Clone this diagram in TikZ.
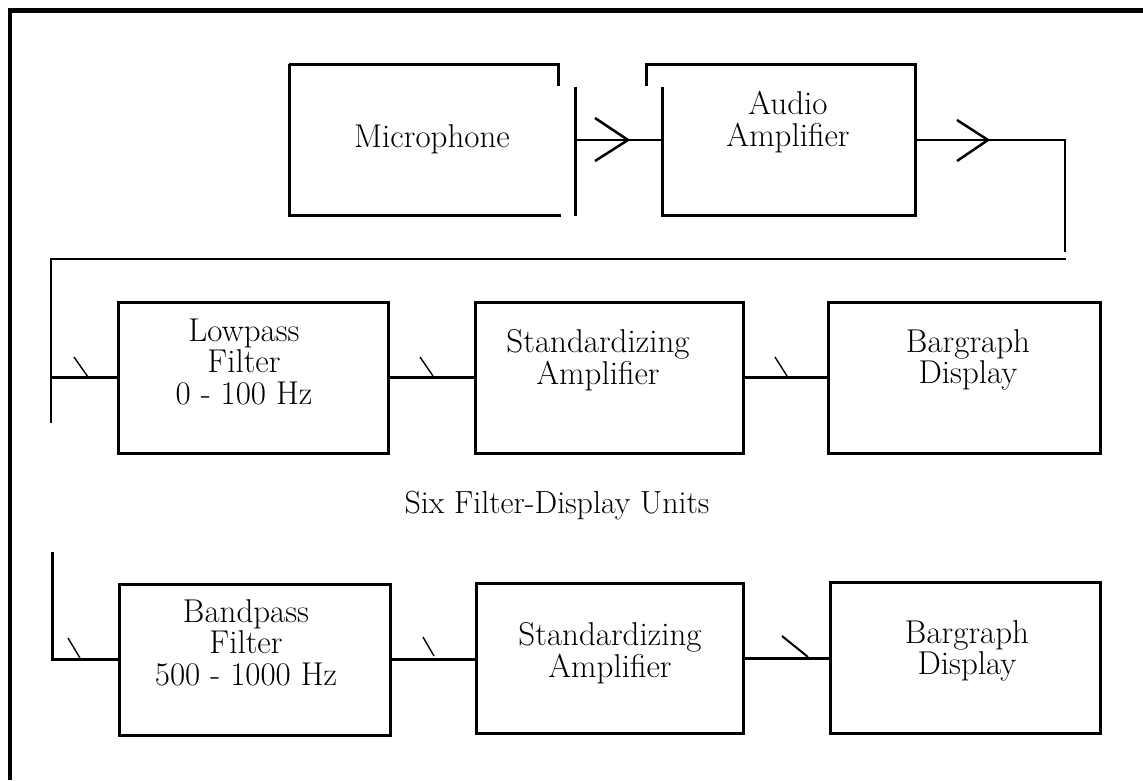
\documentclass[tikz,border=0pt]{standalone}
\usepackage{fontspec}
\newcommand\mystack[1]{\begin{tabular}[t]{@{}c@{}}#1\end{tabular}}
\begin{document}
\begin{tikzpicture}[x=1pt,y=-1pt,
  box/.style={draw, line width=3pt, inner sep=0pt},
  ghost/.style={inner sep=0pt},
  boxline/.style={line width=3pt},
  conn/.style={line width=2.5pt},
  chev/.style={line width=2.5pt, line join=miter},
  slash/.style={line width=1.4pt},
  frame/.style={line width=4.6pt, line join=miter},
  txt/.style={anchor=base, inner sep=0pt, font=\fontsize{33}{30}\selectfont}]
\useasboundingbox (0,0) rectangle (1143,780);
% frame
\draw[frame] (10,780) -- (10,10.3) -- (1143,10.3);

% top row
\node[ghost, minimum width=286pt, minimum height=152pt] (mic) at (432,140) {};
\draw[boxline] (289,64) -- (558,64) -- (558,86);
\draw[boxline] (289,64) -- (289,215) -- (561,215);
\draw[boxline] (575,87) -- (575,216);
\node[txt] (micT) at (432,147) {Microphone};

\node[ghost, minimum width=253pt, minimum height=151pt] (amp) at (788.5,140) {};
\draw[boxline] (646,86) -- (646,64) -- (915,64) -- (915,215) -- (662,215) -- (662,87);
\node[txt] (ampT) at (788,114) {\mystack{Audio\\Amplifier}};

\draw[conn] (mic.east) -- (amp.west);
\draw[chev] (595,118) -- (628,140) -- (595,161);

\coordinate (c1) at (1065,252);
\coordinate (c2) at (1066,259);
\coordinate (c3) at (51,259);
\coordinate (c4) at (51,423);
\draw[conn] (amp.east) -- (c1 |- amp.east) -- (c1);
\draw[chev] (957,120) -- (988,140) -- (957,161);
\draw[conn] (c2) -- (c3) -- (c4);

% row 1
\node[box, minimum width=270pt, minimum height=151pt] (lp) at (253,377.5) {};
\node[txt] (lpT) at (244,341) {\mystack{Lowpass\\Filter\\0 - 100 Hz}};
\node[box, minimum width=268pt, minimum height=151pt] (std1) at (609,377.5) {};
\node[txt] (std1T) at (598,352) {\mystack{Standardizing\\Amplifier}};
\node[box, minimum width=272pt, minimum height=151pt] (bar1) at (964,377.5) {};
\node[txt] (bar1T) at (968,352) {\mystack{Bargraph\\Display}};

\draw[conn] (c3 |- lp.west) -- (lp.west);
\draw[conn] (lp.east) -- (std1.west);
\draw[conn] (std1.east) -- (bar1.west);
\draw[slash] (74,357) -- (88,377);
\draw[slash] (420,357) -- (433,376);
\draw[slash] (775,357) -- (787,376);

\node[txt, font=\fontsize{32}{30}\selectfont] (six) at (557,513) {Six Filter-Display Units};

% row 2
\node[box, minimum width=271pt, minimum height=151pt] (bp) at (254.5,659.5) {};
\node[txt] (bpT) at (246,622) {\mystack{Bandpass\\Filter\\500 - 1000 Hz}};
\node[box, minimum width=267pt, minimum height=150pt] (std2) at (609.5,658) {};
\node[txt] (std2T) at (610,645) {\mystack{Standardizing\\Amplifier}};
\node[box, minimum width=270pt, minimum height=151pt] (bar2) at (965,657.5) {};
\node[txt] (bar2T) at (967,643) {\mystack{Bargraph\\Display}};

\coordinate (d1) at (52,552);
\draw[conn, line width=3pt, line join=miter] (d1) -- (d1 |- bp.west) -- (bp.west);
\draw[conn, line width=3pt] (bp.east) -- (bp.east -| std2.west);
\draw[conn, line width=3pt] (std2.east) -- (std2.east -| bar2.west);
\draw[slash] (68,638) -- (80,658);
\draw[slash] (423,637) -- (434,656);
\draw[slash, line width=2pt] (782,636) -- (808,657);
\end{tikzpicture}
\end{document}
